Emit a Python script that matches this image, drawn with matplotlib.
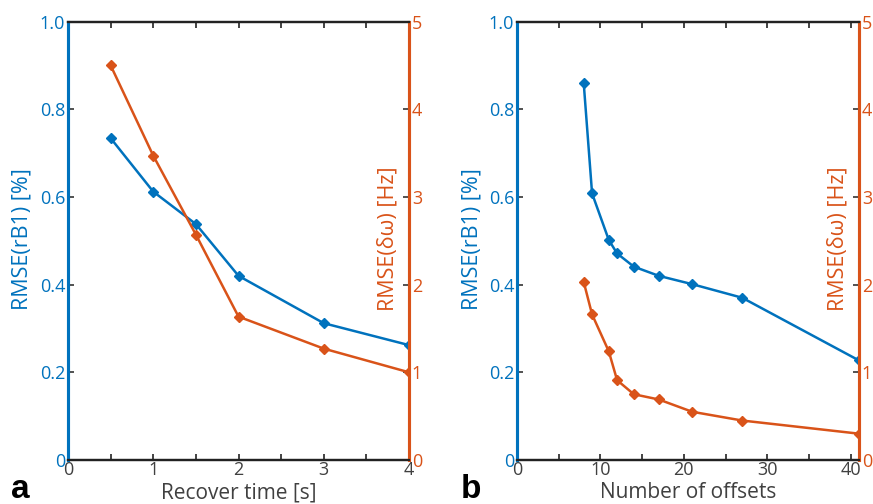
import matplotlib
matplotlib.use("Agg")
import matplotlib.pyplot as plt
import numpy as np

# Panel a data
recover_time = [0.5, 1, 1.5, 2, 3, 4]
rmse_rb1_a = [0.734, 0.612, 0.538, 0.420, 0.312, 0.262]
rmse_dw_a = [4.50, 3.47, 2.57, 1.635, 1.27, 1.00]

# Panel b data
n_offsets = [8, 9, 11, 12, 14, 17, 21, 27, 41]
rmse_rb1_b = [0.859, 0.608, 0.502, 0.471, 0.441, 0.420, 0.401, 0.370, 0.227]
rmse_dw_b = [2.03, 1.66, 1.24, 0.91, 0.75, 0.69, 0.55, 0.45, 0.30]

BLUE = "#0072BD"
ORANGE = "#D95319"
GRAY = "#404040"
FONT = ["Open Sans", "DejaVu Sans"]

plt.rcParams["font.family"] = FONT

fig = plt.figure(figsize=(8.73, 5.04), dpi=100)

AX_W_PX = 341.0


def make_panel(rect, x, y1, y2, xlim, xticks, xminor, xlabel, letter, letter_x,
               left_lab_px, right_lab_px):
    ax = fig.add_axes(rect)
    ax2 = ax.twinx()
    ax.plot(x, y1, color=BLUE, lw=1.8, marker="D", ms=5, zorder=3)
    ax2.plot(x, y2, color=ORANGE, lw=1.8, marker="D", ms=5, zorder=3)
    ax.set_xlim(*xlim)
    ax.set_ylim(0, 1)
    ax2.set_ylim(0, 5)
    ax.set_xticks(xticks)
    ax.set_xticks(xminor, minor=True)
    ax.set_xticklabels([str(t) for t in xticks])
    ax.set_yticks([0, 0.2, 0.4, 0.6, 0.8, 1.0])
    ax.set_yticklabels(["0", "0.2", "0.4", "0.6", "0.8", "1.0"])
    ax2.set_yticks([0, 1, 2, 3, 4, 5])
    ax2.set_yticklabels(["0", "1", "2", "3", "4", "5"])

    for a in (ax, ax2):
        for s in a.spines.values():
            s.set_linewidth(1.6)
        a.spines["top"].set_color("#222222")
        a.spines["bottom"].set_color("#222222")
        a.spines["left"].set_color(BLUE)
        a.spines["right"].set_color(ORANGE)
        a.spines["left"].set_linewidth(2.2)
        a.spines["right"].set_linewidth(2.2)

    ax.tick_params(axis="x", which="both", direction="in", top=True, bottom=True,
                   length=4, width=1.2, color="#222222", labelsize=13,
                   labelcolor=GRAY, pad=1)
    ax.tick_params(axis="y", direction="in", length=4, width=1.2,
                   color="#333333", labelsize=13, labelcolor=BLUE, pad=2)
    ax2.tick_params(axis="y", direction="in", length=4, width=1.2,
                    color="#333333", labelsize=13, labelcolor=ORANGE, pad=2)

    ax.set_xlabel(xlabel, fontsize=15, color=GRAY, labelpad=2)
    ax.set_ylabel("RMSE(rB1) [%]", fontsize=15.5, color=BLUE)
    ax.yaxis.set_label_coords(left_lab_px / AX_W_PX, 0.505)
    ax2.set_ylabel("RMSE(δω) [Hz]", fontsize=15.5, color=ORANGE, rotation=90)
    ax2.yaxis.set_label_coords(right_lab_px / AX_W_PX, 0.505)
    ax2.yaxis.label.set_horizontalalignment("center")
    ax2.yaxis.label.set_verticalalignment("center")
    ax.yaxis.label.set_verticalalignment("center")

    fig.text(letter_x, 6.0 / 504, letter, fontsize=24, fontweight="bold",
             family="Liberation Sans", color="black", va="baseline", ha="left")
    return ax, ax2


make_panel([0.0779, 0.0873, 0.3906, 0.870], recover_time, rmse_rb1_a, rmse_dw_a,
           (0, 4), [0, 1, 2, 3, 4], np.arange(0, 4.01, 0.5), "Recover time [s]",
           "a", 0.013, 22 - 68, 388 - 68)
make_panel([0.5922, 0.0873, 0.3918, 0.870], n_offsets, rmse_rb1_b, rmse_dw_b,
           (0, 41), [0, 10, 20, 30, 40], np.arange(0, 41, 5), "Number of offsets",
           "b", 0.528, 472 - 517, 837 - 517)

fig.savefig("out.png", dpi=100)
